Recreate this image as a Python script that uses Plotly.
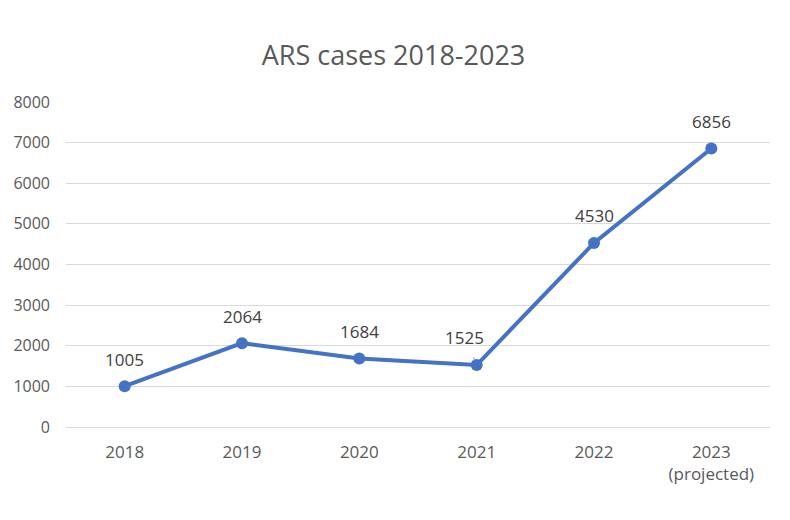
import plotly.graph_objects as go

years = ["2018", "2019", "2020", "2021", "2022", "2023"]
tick_labels = ["2018", "2019", "2020", "2021", "2022", "2023<br>(projected)"]
cases = [1005, 2064, 1684, 1525, 4530, 6856]

fig = go.Figure()
fig.add_trace(go.Scatter(
    x=years, y=cases, mode="lines+markers",
    line=dict(color="#4472C4", width=4),
    marker=dict(color="#4472C4", size=12),
    hoverinfo="x+y", showlegend=False,
))

for i, (yr, v) in enumerate(zip(years, cases)):
    if yr == "2021":
        fig.add_annotation(x=i, y=v, text=str(v), showarrow=True,
                           ax=-12, ay=-28, arrowhead=0, arrowwidth=1.2,
                           arrowcolor="#A6A6A6", standoff=5, startstandoff=8,
                           font=dict(size=17, color="#404040", family="Open Sans"))
    else:
        fig.add_annotation(x=i, y=v, text=str(v), showarrow=False, yshift=27,
                           font=dict(size=17, color="#404040", family="Open Sans"))

fig.update_layout(
    width=790, height=520,
    paper_bgcolor="white", plot_bgcolor="white",
    margin=dict(l=58, r=28, t=94, b=101),
    title=dict(text="ARS cases 2018-2023", x=0.488, xanchor="center", y=0.908, yanchor="middle",
               font=dict(size=27, color="#595959", family="Open Sans")),
    font=dict(family="Open Sans", color="#595959", size=17),
)
fig.update_xaxes(type="category", tickmode="array", tickvals=years, ticktext=tick_labels,
                 showgrid=False, showline=False, ticks="", range=[-0.5, 5.5], automargin=False,
                 tickfont=dict(size=17, color="#595959"), ticklabelstandoff=13)
fig.update_yaxes(range=[0, 8000], dtick=1000, showgrid=True, gridcolor="#D9D9D9", gridwidth=1,
                 zeroline=True, zerolinecolor="#D9D9D9", zerolinewidth=1, showline=False, automargin=False,
                 ticks="", tickfont=dict(size=16, color="#595959"), ticklabelstandoff=15)

fig.write_html("out.html")
